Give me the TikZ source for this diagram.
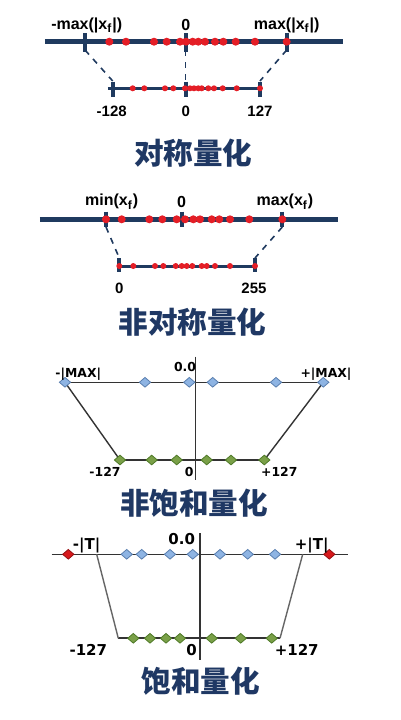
\documentclass[tikz,border=0pt]{standalone}
\usepackage{fontspec}
\setmainfont{Liberation Sans}
\newfontfamily\wide{DejaVu Sans}
\newfontfamily\cjk{Noto Sans CJK SC}
\usetikzlibrary{shapes.geometric}

\definecolor{axisnavy}{HTML}{1F3A5F}
\definecolor{titlenavy}{HTML}{1F3864}
\definecolor{dotred}{HTML}{E41E26}
\definecolor{diablue}{HTML}{8EB4E3}
\definecolor{diablueedge}{HTML}{5A7FAF}
\definecolor{diagreen}{HTML}{7AA048}
\definecolor{diagreenedge}{HTML}{4F7A28}
\definecolor{diared}{HTML}{D7191C}

\tikzset{
  axis/.style={draw=axisnavy,line width=2.5pt},
  subaxis/.style={draw=axisnavy,line width=1.5pt},
  tickmark/.style={draw=axisnavy,line width=2pt},
  link/.style={draw=axisnavy,dashed,line width=0.8pt},
  thinline/.style={draw=black!80,line width=0.7pt},
  lbl/.style={font=\bfseries\fontsize{8}{9}\selectfont,inner sep=0pt},
  numlbl/.style={font=\bfseries\fontsize{7.5}{9}\selectfont,inner sep=0pt},
  widelbl/.style={font=\wide\bfseries\fontsize{6.2}{7}\selectfont,inner sep=0pt},
  widelblb/.style={font=\wide\bfseries\fontsize{7.5}{9}\selectfont,inner sep=0pt},
  title/.style={font=\cjk\bfseries\fontsize{14.8}{16}\selectfont,text=titlenavy,inner sep=0pt},
  dia/.style={diamond,minimum width=5.8pt,minimum height=5pt,inner sep=0pt,line width=0.4pt},
  bluedia/.style={dia,fill=diablue,draw=diablueedge},
  greendia/.style={dia,fill=diagreen,draw=diagreenedge},
  reddia/.style={dia,fill=diared,draw=diared!70!black}
}

\begin{document}
\begin{tikzpicture}[x=0.5pt,y=-0.5pt]
    \useasboundingbox[fill=white] (0,0) rectangle (401,720);

    % Symmetric quantization
    \draw[axis] (45,41.7) -- (343,41.7);
    \foreach \x in {85,185.7,286.7} \draw[tickmark] (\x,33) -- (\x,52);
    \foreach \x in {109.3,126,154,166.7,180,186,192.7,198.3,205,215,223.3,235.7,255,286.7}
        \fill[dotred] (\x,41.7) circle (2pt);
    \draw[subaxis] (108,88.3) -- (260,88.3);
    \foreach \x in {112.7,185.7,260} \draw[tickmark] (\x,81.7) -- (\x,96.7);
    \foreach \x in {132.7,144.3,165,173.3,185,190,194,198.3,201.7,208.3,214,222.7,236.7,260}
        \fill[dotred] (\x,88.3) circle (1.5pt);
    \coordinate (sa1) at (85,50);
    \coordinate (sa2) at (185.7,50);
    \coordinate (sa3) at (286.7,50);
    \coordinate (sb1) at (112.7,81);
    \coordinate (sb2) at (185.7,81);
    \coordinate (sb3) at (260,81);
    \draw[link] (sa1) -- (sb1);
    \draw[link] (sa2) -- (sb2);
    \draw[link] (sa3) -- (sb3);
    \node[lbl] (smin) at (86.7,25) {-max(|x\textsubscript{f}|)};
    \node[lbl] (szero) at (185.7,25) {0};
    \node[lbl] (smax) at (286.7,25) {max(|x\textsubscript{f}|)};
    \node[numlbl] (slo) at (111.7,111.7) {-128};
    \node[numlbl] (smid) at (185.7,111.7) {0};
    \node[numlbl] (shi) at (260,111.7) {127};
    \node[title] (stitle) at (193.3,153) {对称量化};

    % Asymmetric quantization
    \draw[axis] (40,219.3) -- (338,219.3);
    \foreach \x in {106,181.7,282.3} \draw[tickmark] (\x,211.7) -- (\x,226.7);
    \foreach \x in {106,121.7,149.3,162.3,176.7,185,193.3,200,211.7,219.3,230,249.3,282.3}
        \fill[dotred] (\x,219.3) circle (2pt);
    \draw[subaxis] (118.3,266) -- (255,266);
    \foreach \x in {119.3,255} \draw[tickmark] (\x,258) -- (\x,271.7);
    \foreach \x in {119.3,133.3,155,163.3,175.7,181.7,186.7,192.3,201.7,206.7,215,230,255}
        \fill[dotred] (\x,266) circle (1.5pt);
    \coordinate (aa1) at (106,227);
    \coordinate (aa2) at (282.3,227);
    \coordinate (ab1) at (119.3,258);
    \coordinate (ab2) at (255,258);
    \draw[link] (aa1) -- (ab1);
    \draw[link] (aa2) -- (ab2);
    \node[lbl] (amin) at (111.7,201.7) {min(x\textsubscript{f})};
    \node[lbl] (azero) at (181.7,201.7) {0};
    \node[lbl] (amax) at (285,201.7) {max(x\textsubscript{f})};
    \node[numlbl] (alo) at (119.3,288.3) {0};
    \node[numlbl] (ahi) at (254,288.3) {255};
    \node[title] (atitle) at (192.5,321.7) {非对称量化};

    % Non-saturated quantization
    \coordinate (m1) at (65,382.3);
    \coordinate (m6) at (323.3,382.3);
    \coordinate (g1) at (120,460);
    \coordinate (g6) at (264.3,460);
    \draw[thinline] (m1) -- (m6);
    \draw[thinline] (195.7,356.7) -- (195.7,480);
    \draw[thinline,line width=1pt] (g1) -- (g6);
    \draw[thinline] (m1) -- (g1);
    \draw[thinline] (m6) -- (g6);
    \foreach \x in {65,145,189.3,212.7,276,323.3} \node[bluedia] at (\x,382.3) {};
    \foreach \x in {120,151.7,176.7,206.7,231,264.3} \node[greendia] at (\x,460) {};
    \node[widelbl] (nmin) at (78.3,374) {-|MAX|};
    \node[widelbl] (nzero) at (185,366.7) {0.0};
    \node[widelbl] (nmax) at (326,374) {+|MAX|};
    \node[widelbl] (nlo) at (105,471.7) {-127};
    \node[widelbl] (nmid) at (189.3,471.7) {0};
    \node[widelbl] (nhi) at (279.3,471.7) {+127};
    \node[title] (ntitle) at (194,503) {非饱和量化};

    % Saturated quantization
    \coordinate (t1) at (96.7,554.3);
    \coordinate (t2) at (302.7,554.3);
    \coordinate (u1) at (118.3,638.3);
    \coordinate (u2) at (280,638.3);
    \draw[thinline] (51.7,554.3) -- (348.3,554.3);
    \draw[thinline] (200,533.3) -- (200,660);
    \draw[thinline,line width=1pt] (u1) -- (u2);
    \draw[thinline,black!60] (t1) -- (u1);
    \draw[thinline,black!60] (t2) -- (u2);
    \foreach \x in {68.3,329.3} \node[reddia] at (\x,554.3) {};
    \foreach \x in {126.7,141.7,170,192.7,220,247.7,275} \node[bluedia] at (\x,554.3) {};
    \foreach \x in {133.3,150,166,180,211.7,240.7,271.7} \node[greendia] at (\x,638.3) {};
    \node[widelblb] (tmin) at (86.7,546) {-|T|};
    \node[widelblb] (tzero) at (181.7,539.3) {0.0};
    \node[widelblb] (tmax) at (311.7,546) {+|T|};
    \node[widelblb] (tlo) at (88.3,650) {-127};
    \node[widelblb] (tmid) at (191.7,650) {0};
    \node[widelblb] (thi) at (296.7,650) {+127};
    \node[title] (ttitle) at (200.8,681.7) {饱和量化};
\end{tikzpicture}
\end{document}
